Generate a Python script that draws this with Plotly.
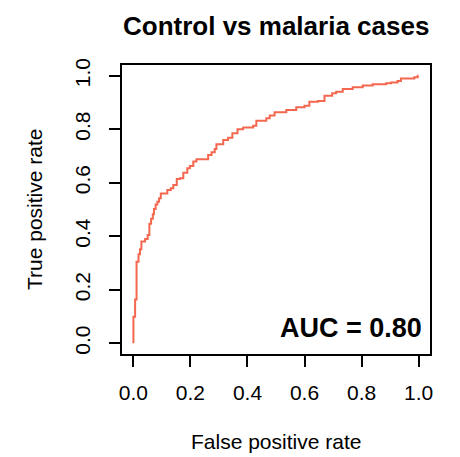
import plotly.graph_objects as go

# ROC curve: control vs malaria cases
fpr = [0, 0, 0.006, 0.011, 0.018, 0.023, 0.028, 0.041, 0.05, 0.056, 0.062, 0.068,
       0.072, 0.078, 0.084, 0.09, 0.096, 0.119, 0.131, 0.14, 0.152, 0.163, 0.175,
       0.189, 0.198, 0.21, 0.221, 0.262, 0.274, 0.285, 0.291, 0.315, 0.332, 0.347,
       0.365, 0.385, 0.42, 0.431, 0.466, 0.478, 0.495, 0.536, 0.571, 0.6, 0.617,
       0.647, 0.67, 0.697, 0.711, 0.734, 0.769, 0.804, 0.839, 0.886, 0.903, 0.926,
       0.938, 0.985, 0.997, 1.0]
tpr = [0, 0.099, 0.164, 0.305, 0.333, 0.351, 0.38, 0.39, 0.405, 0.447, 0.465, 0.482,
       0.502, 0.519, 0.529, 0.542, 0.56, 0.573, 0.579, 0.592, 0.614, 0.617, 0.637,
       0.654, 0.663, 0.679, 0.688, 0.704, 0.714, 0.726, 0.744, 0.76, 0.768, 0.785,
       0.80, 0.806, 0.813, 0.832, 0.841, 0.851, 0.863, 0.872, 0.882, 0.888, 0.903,
       0.905, 0.925, 0.934, 0.94, 0.95, 0.957, 0.963, 0.968, 0.972, 0.975, 0.98,
       0.99, 0.994, 1.0, 1.0]
auc = 0.80
tick_vals = [0.0, 0.2, 0.4, 0.6, 0.8, 1.0]
tick_text = ["0.0", "0.2", "0.4", "0.6", "0.8", "1.0"]

FONT = "Liberation Sans, Arial, Helvetica, sans-serif"

fig = go.Figure()
fig.add_trace(go.Scatter(
    x=fpr, y=tpr, mode="lines",
    line=dict(color="#F4674F", width=2, shape="hv"),
    showlegend=False, hoverinfo="skip",
))

axis_common = dict(
    range=[-0.04, 1.04], showgrid=False, zeroline=False,
    showline=True, mirror=True, linecolor="black", linewidth=1.5,
    ticks="outside", ticklen=11, tickwidth=1.5, tickcolor="black",
    tickvals=tick_vals, ticktext=tick_text,
    tickfont=dict(family=FONT, size=21, color="black"),
)

fig.update_layout(
    width=460, height=457,
    margin=dict(l=122, r=30, t=65, b=103),
    paper_bgcolor="white", plot_bgcolor="white",
    xaxis=dict(**axis_common, ticklabelstandoff=8),
    yaxis=dict(**axis_common, tickangle=-90, ticklabelstandoff=11),
    annotations=[
        dict(text="<b>Control vs malaria cases</b>", xref="paper", yref="paper",
             x=0.5, y=1.135, xanchor="center", yanchor="middle", showarrow=False,
             font=dict(family=FONT, size=26, color="black")),
        dict(text="False positive rate", xref="paper", yref="paper",
             x=0.5, y=-0.304, xanchor="center", yanchor="middle", showarrow=False,
             font=dict(family=FONT, size=21, color="black")),
        dict(text="True positive rate", xref="paper", yref="paper",
             x=-0.284, y=0.5, xanchor="center", yanchor="middle", showarrow=False,
             textangle=-90, font=dict(family=FONT, size=21, color="black")),
        dict(text=f"<b>AUC = {auc:.2f}</b>", xref="x", yref="y",
             x=1.019, y=0.057, xanchor="right", yanchor="middle", showarrow=False,
             font=dict(family=FONT, size=27, color="black")),
    ],
)

fig.write_html("out.html")
